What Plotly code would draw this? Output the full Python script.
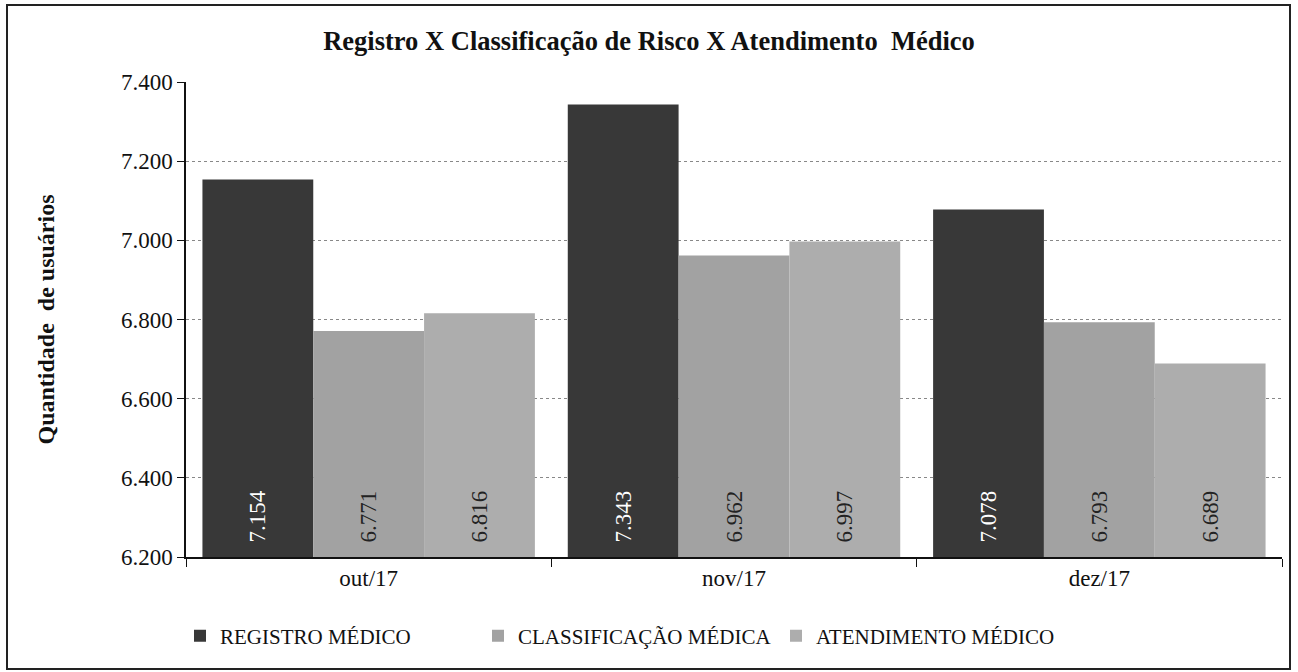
import plotly.graph_objects as go

categories = ["out/17", "nov/17", "dez/17"]
series_names = ["REGISTRO MÉDICO", "CLASSIFICAÇÃO MÉDICA", "ATENDIMENTO MÉDICO"]
registro = [7154, 7343, 7078]
classificacao = [6771, 6962, 6793]
atendimento = [6816, 6997, 6689]
y_ticks = [6200, 6400, 6600, 6800, 7000, 7200, 7400]
y_min, y_max = 6200, 7400

colors = ["#383838", "#a2a2a2", "#adadad"]
text_colors = ["#ffffff", "#222222", "#222222"]
FONT = "Liberation Serif, Times New Roman, serif"


def fmt(v):
    return "\u00a0\u00a0" + f"{v:,}".replace(",", ".")


fig = go.Figure()
for name, vals, c, tc in zip(series_names, [registro, classificacao, atendimento], colors, text_colors):
    fig.add_trace(go.Bar(
        x=categories, y=[v - y_min for v in vals], base=y_min, name=name,
        marker=dict(color=c, line=dict(width=0)),
        text=[fmt(v) for v in vals], textposition="inside", insidetextanchor="start",
        textangle=-90, textfont=dict(family=FONT, size=23, color=tc),
        customdata=vals, hovertemplate="%{x}: %{customdata}<extra>" + name + "</extra>",
    ))

L, R, T, B = 186, 16, 82, 115
W, H = 1298, 672
pw, ph = W - L - R, H - T - B


def px_x(p):
    return (p - L) / pw


def px_y(p):
    return (H - B - p) / ph


fig.update_layout(
    width=W, height=H,
    margin=dict(l=L, r=R, t=T, b=B),
    paper_bgcolor="white", plot_bgcolor="white",
    separators=",.",
    barmode="group", bargap=0.09, bargroupgap=0,
    font=dict(family=FONT, color="#111111"),
    title=dict(text="<b>Registro X Classificação de Risco X Atendimento  Médico</b>",
               x=0.5, xref="container", y=1 - 41 / H, yref="container",
               xanchor="center", yanchor="middle",
               font=dict(family=FONT, size=26.5, color="#111111")),
    legend=dict(orientation="h", x=px_x(180), xanchor="left", y=px_y(636), yanchor="middle",
                font=dict(family=FONT, size=21, color="#111111"),
                entrywidth=253, entrywidthmode="pixels", itemwidth=30,
                traceorder="normal"),
    showlegend=True,
    xaxis=dict(showline=True, linecolor="#111111", linewidth=1.5,
               ticks="outside", ticklen=8, tickcolor="#111111", tickson="boundaries",
               tickfont=dict(family=FONT, size=23, color="#111111"),
               showgrid=False),
    yaxis=dict(range=[y_min, y_max], tickvals=y_ticks, tickformat=",.0f",
               showline=True, linecolor="#111111", linewidth=1.5,
               ticks="outside", ticklen=7, tickcolor="#111111",
               tickfont=dict(family=FONT, size=23, color="#111111"),
               showgrid=True, gridcolor="#888888", gridwidth=1, griddash="dot",
               title=dict(text="<b>Quantidade  de usuários</b>", standoff=60,
                          font=dict(family=FONT, size=24, color="#111111"))),
    shapes=[dict(type="rect", xref="paper", yref="paper",
                 x0=px_x(7), x1=px_x(1290), y0=px_y(669), y1=px_y(5),
                 line=dict(color="#222222", width=2), fillcolor="rgba(0,0,0,0)", layer="above")],
)

fig.write_html("out.html", config={"displayModeBar": False},
               post_script="document.body.style.margin='0';document.body.style.padding='0';")
